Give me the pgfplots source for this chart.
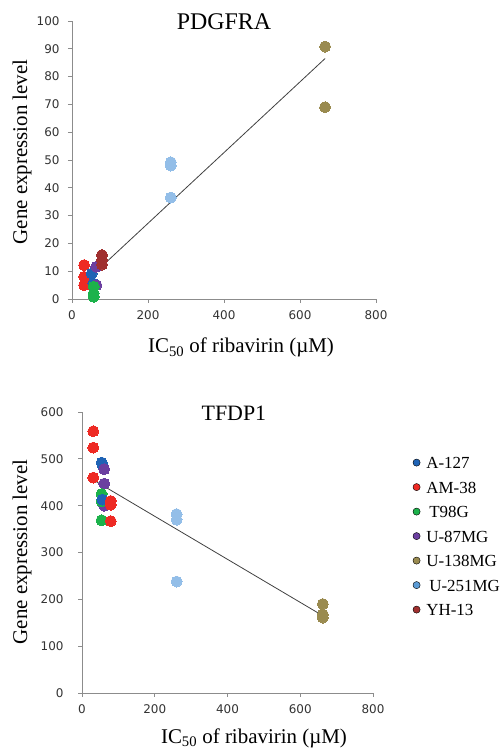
\documentclass[border=0pt]{standalone}
\usepackage{fontspec}
\setmainfont{Liberation Serif}
\newfontfamily\ticksfont{DejaVu Sans}
\usepackage{pgfplots}
\pgfplotsset{compat=1.18}

\definecolor{cA}{HTML}{1F63B5}
\definecolor{cAM}{HTML}{EE2A24}
\definecolor{cT}{HTML}{1CB24B}
\definecolor{cU87}{HTML}{6B3FA0}
\definecolor{cU138}{HTML}{9A8B50}
\definecolor{cU251}{HTML}{93BEE8}
\definecolor{cU251leg}{HTML}{5B9BD5}
\definecolor{cYH}{HTML}{A0302F}

\pgfplotsset{
  cellaxis/.style={
    scale only axis, anchor=south west, clip=false,
    axis lines*=left,
    axis line style={black!45, line width=0.9bp},
    tick style={black!45, line width=0.8bp},
    tick align=outside, major tick length=4bp,
    xmin=0, xmax=800, xtick={0,200,...,800},
    tick label style={font=\ticksfont\fontsize{12}{14}\selectfont, text=black!80},
    xticklabel style={yshift=-4bp},
    /pgf/number format/assume math mode=true,
    label style={font=\fontsize{21}{25}\selectfont},
  },
  dot/.style={only marks, mark=*, mark size=5.5bp, forget plot, color=#1,
    mark options={draw=#1, fill=#1, line width=0pt}},
  trend/.style={black!75, line width=0.8bp, forget plot},
}

\begin{document}
\begin{tikzpicture}
\useasboundingbox (0,0) rectangle (502bp,748bp);

% PDGFRA
\begin{axis}[cellaxis,
  at={(72bp,449bp)}, width=304bp, height=278bp,
  ymin=0, ymax=100, ytick={0,10,...,100},
  yticklabel style={xshift=-5bp},
  title={PDGFRA},
  title style={at={(axis description cs:0.5,1)}, anchor=base, yshift=-14bp,
    font=\fontsize{24}{28}\selectfont},
  xlabel={IC\textsubscript{50} of ribavirin (µM)},
  xlabel style={at={(axis description cs:0.556,-0.194)}, anchor=base},
  ylabel={Gene expression level},
  ylabel style={at={(axis description cs:-0.1645,0.529)}, anchor=center},
]
\addplot[dot=cAM] coordinates {(32,12.2) (32,8) (32,5)};
\addplot[dot=cA] coordinates {(52,9.2) (56,5.6)};
\addplot[dot=cU87] coordinates {(64,11.6) (64,5)};
\addplot[dot=cT] coordinates {(57,4.4) (57,2) (57,0.8)};
\addplot[dot=cYH] coordinates {(79,15.8) (79,14) (79,12.4)};
\addplot[dot=cU251] coordinates {(260,49.2) (260,48) (260,36.5)};
\addplot[dot=cU138] coordinates {(666,90.8) (666,69)};
\addplot[trend] coordinates {(30,5.6) (666,86.5)};
\end{axis}

% TFDP1
\begin{axis}[cellaxis,
  at={(82bp,55bp)}, width=291bp, height=281bp,
  ymin=0, ymax=600, ytick={0,100,...,600},
  yticklabel style={xshift=-11bp},
  title={TFDP1},
  title style={at={(axis description cs:0.522,1)}, anchor=base, yshift=-14bp,
    font=\fontsize{22}{26}\selectfont},
  xlabel={IC\textsubscript{50} of ribavirin (µM)},
  xlabel style={at={(axis description cs:0.591,-0.178)}, anchor=base},
  ylabel={Gene expression level},
  ylabel style={at={(axis description cs:-0.206,0.502)}, anchor=center},
  legend style={at={(axis description cs:1.136,0.842)}, anchor=north west,
    draw=none, fill=none, inner sep=0pt, row sep=12.5bp, column sep=6bp,
    font=\fontsize{17}{20}\selectfont,
    nodes={inner sep=0pt, text height=12bp, text depth=0bp}},
  legend cell align=left,
  legend image code/.code={\fill[#1] (0bp,0bp) circle (3.6bp);},
]
\addlegendimage{fill=cA}
\addlegendentry{A-127}
\addlegendimage{fill=cAM}
\addlegendentry{AM-38}
\addlegendimage{fill=cT}
\addlegendentry{\hspace{3bp}T98G}
\addlegendimage{fill=cU87}
\addlegendentry{U-87MG}
\addlegendimage{fill=cU138}
\addlegendentry{U-138MG}
\addlegendimage{fill=cU251leg}
\addlegendentry{\hspace{3bp}U-251MG}
\addlegendimage{fill=cYH}
\addlegendentry{YH-13}
\addplot[dot=cAM] coordinates {(31,559) (31,524) (31,460)};
\addplot[dot=cA] coordinates {(54,492) (56,488)};
\addplot[dot=cU87] coordinates {(61,478) (61,447) (61,400)};
\addplot[dot=cT] coordinates {(54,425) (54,409) (54,369)};
\addplot[dot=cA] coordinates {(56,413)};
\addplot[dot=cAM] coordinates {(79,410) (79,402) (79,367)};
\addplot[dot=cU251] coordinates {(260,382) (260,370) (260,238)};
\addplot[dot=cU138] coordinates {(662,190) (662,168) (662,161)};
\addplot[trend] coordinates {(31,455) (662,165)};
\end{axis}
\end{tikzpicture}
\end{document}
